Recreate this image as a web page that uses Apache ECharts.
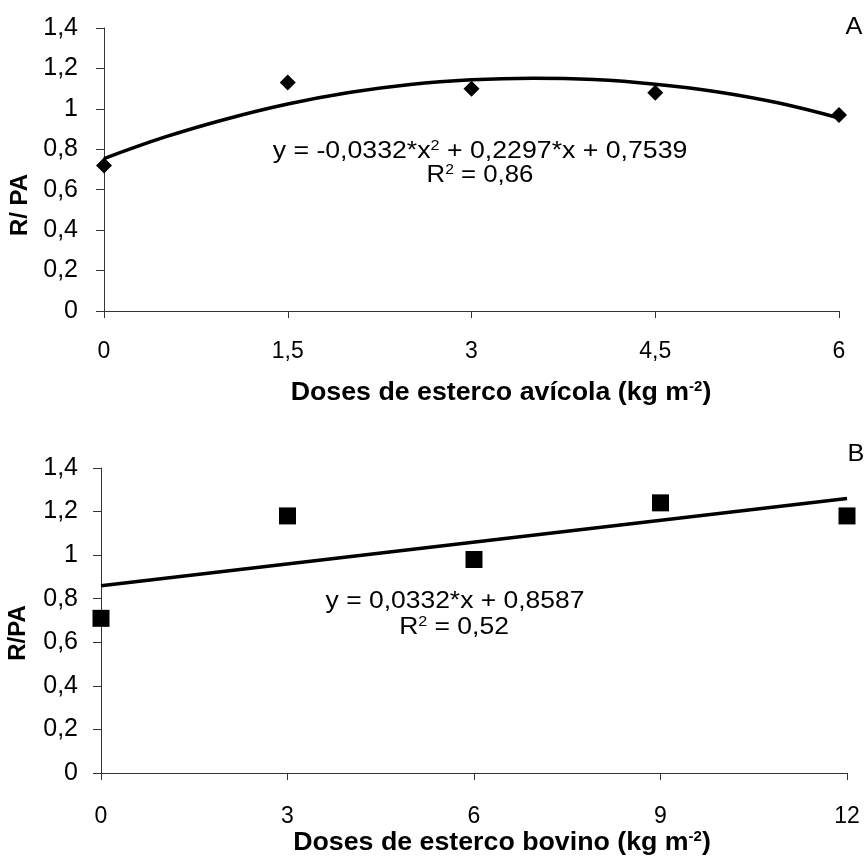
<!DOCTYPE html>
<html>
<head>
<meta charset="utf-8">
<script src="https://cdn.jsdelivr.net/npm/echarts@6/dist/echarts.min.js"></script>
<style>
  html, body { margin: 0; padding: 0; background: #fff; }
  #chart { width: 867px; height: 857px; }
</style>
</head>
<body>
<div id="chart"></div>
<script>
// panel A - esterco avicola
const dosesA = [0, 1.5, 3, 4.5, 6]
const valuesA = [0.72, 1.13, 1.10, 1.08, 0.97]
// fitted curve
const trendXA = [0, 0.5, 1, 1.5, 2, 2.5, 3, 3.5, 4, 4.5, 5, 5.5, 6]
const trendYA = [0.754, 0.861, 0.950, 1.024, 1.081, 1.121, 1.144, 1.152, 1.145, 1.122, 1.085, 1.030, 0.955]
const xTicksA = [0, 1.5, 3, 4.5, 6]

// panel B - esterco bovino
const dosesB = [0, 3, 6, 9, 12]
const valuesB = [0.71, 1.18, 0.98, 1.24, 1.18]
const trendXB = [0, 12]
const trendYB = [0.86, 1.26]
const xTicksB = [0, 3, 6, 9, 12]

const yTicks = [0, 0.2, 0.4, 0.6, 0.8, 1, 1.2, 1.4]

const chart = echarts.init(document.getElementById('chart'))

const fmt = v => String(Math.round(v * 10) / 10).replace('.', ',')
const axisColor = '#333'
const plain = 'Liberation Sans, Arial, sans-serif'

function xAxis(idx, ticks, interval, labelMargin) {
  return {
    type: 'value', gridIndex: idx,
    min: ticks[0], max: ticks[ticks.length - 1], interval,
    axisLine: {onZero: false, lineStyle: {color: axisColor, width: 1}},
    axisTick: {show: true, inside: false, length: 7, lineStyle: {color: axisColor}},
    splitLine: {show: false},
    axisLabel: {
      margin: labelMargin, color: '#000', fontSize: 23, fontFamily: plain,
      formatter: fmt, showMinLabel: true, showMaxLabel: true
    }
  }
}

function yAxis(idx, margin) {
  return {
    type: 'value', gridIndex: idx,
    min: yTicks[0], max: yTicks[yTicks.length - 1], interval: 0.2,
    axisLine: {show: true, lineStyle: {color: axisColor, width: 1}},
    axisTick: {show: true, length: 8, lineStyle: {color: axisColor}},
    splitLine: {show: false},
    axisLabel: {margin, color: '#000', fontSize: 25, fontFamily: plain, formatter: fmt}
  }
}

const toPairs = (xs, ys) => xs.map((x, i) => [x, ys[i]])

const supRich = {
  sup: {fontSize: 14, fontFamily: plain, color: '#000', padding: [0, 0, 11, 0]},
  supB: {fontSize: 14, fontFamily: plain, fontWeight: 'bold', color: '#000', padding: [0, 0, 11, 0]}
}

// centred text at (x, y), optionally stretched horizontally
function txt(x, y, text, font, scaleX, rotation) {
  return {
    type: 'text', x, y, scaleX: scaleX || 1, rotation: rotation || 0,
    style: {text, rich: supRich, font, fill: '#000', align: 'center', verticalAlign: 'middle'}
  }
}

const option = {
  backgroundColor: '#fff',
  animation: false,
  grid: [
    {left: 104, right: 28, top: 28, bottom: 546},
    {left: 101, right: 20, top: 468, bottom: 84}
  ],
  xAxis: [xAxis(0, xTicksA, 1.5, 29), xAxis(1, xTicksB, 3, 32)],
  yAxis: [yAxis(0, 26), yAxis(1, 23)],
  series: [
    {
      type: 'line', xAxisIndex: 0, yAxisIndex: 0, smooth: 0.4, symbol: 'none',
      lineStyle: {color: '#000', width: 3.5}, data: toPairs(trendXA, trendYA), z: 2
    },
    {
      type: 'scatter', xAxisIndex: 0, yAxisIndex: 0, symbol: 'diamond', symbolSize: 16,
      itemStyle: {color: '#000', opacity: 1}, clip: false, data: toPairs(dosesA, valuesA), z: 3
    },
    {
      type: 'line', xAxisIndex: 1, yAxisIndex: 1, symbol: 'none',
      lineStyle: {color: '#000', width: 3.5}, data: toPairs(trendXB, trendYB), z: 2
    },
    {
      type: 'scatter', xAxisIndex: 1, yAxisIndex: 1, symbol: 'rect', symbolSize: 17,
      itemStyle: {color: '#000', opacity: 1}, clip: false, data: toPairs(dosesB, valuesB), z: 3
    }
  ],
  graphic: [
    // equations
    txt(480, 152, 'y = -0,0332*x{sup|2} + 0,2297*x + 0,7539', '23px ' + plain, 1.16),
    txt(480, 176, 'R{sup|2} = 0,86', '23px ' + plain, 1.12),
    txt(455, 602, 'y = 0,0332*x + 0,8587', '23px ' + plain, 1.15),
    txt(454, 628, 'R{sup|2} = 0,52', '23px ' + plain, 1.15),
    // panel letters
    txt(854, 28, 'A', '23px ' + plain, 1.1),
    txt(856, 455, 'B', '23px ' + plain, 1.1),
    // axis titles
    txt(501, 393, 'Doses de esterco avícola (kg m{supB|-2})', 'bold 25px ' + plain, 1.07),
    txt(502, 843, 'Doses de esterco bovino (kg m{supB|-2})', 'bold 25px ' + plain, 1.07),
    txt(20, 205, 'R/ PA', 'bold 24px ' + plain, 1, Math.PI / 2),
    txt(18, 633, 'R/PA', 'bold 24px ' + plain, 1, Math.PI / 2)
  ]
}

chart.setOption(option)
</script>
</body>
</html>
